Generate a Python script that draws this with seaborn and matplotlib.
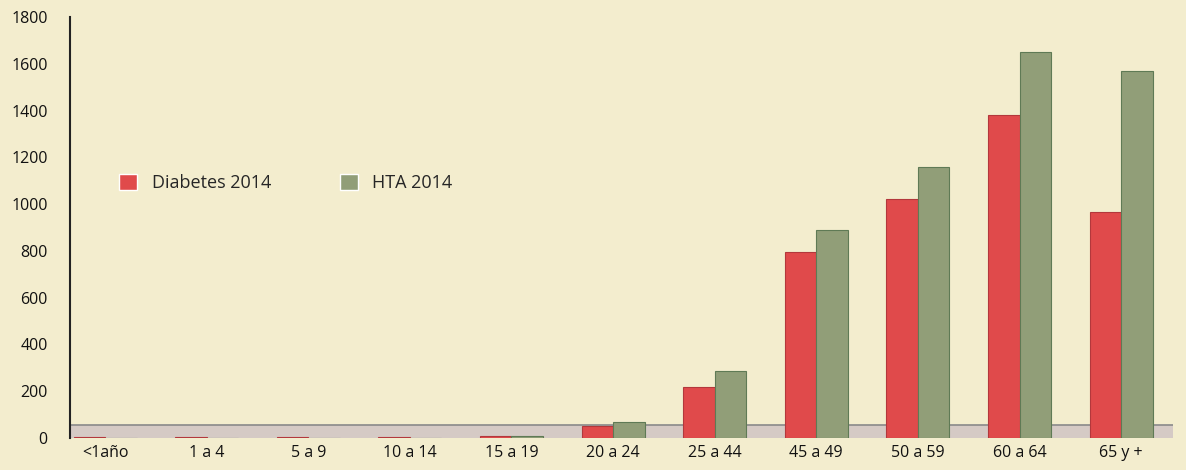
import seaborn as sns
import matplotlib.pyplot as plt
import pandas as pd

# Datos
grupos = ['<1año', '1 a 4', '5 a 9', '10 a 14', '15 a 19', '20 a 24',
          '25 a 44', '45 a 49', '50 a 59', '60 a 64', '65 y +']
diabetes = [3, 3, 3, 3, 8, 50, 220, 795, 1020, 1380, 965]
hta = [2, 2, 2, 2, 10, 70, 285, 890, 1160, 1650, 1570]

df = pd.DataFrame({
    'grupo': grupos * 2,
    'valor': diabetes + hta,
    'serie': ['Diabetes 2014'] * len(grupos) + ['HTA 2014'] * len(grupos),
})

fondo = '#F3EDCE'
sns.set_style('white')
plt.rcParams['font.family'] = ['Open Sans', 'DejaVu Sans']

fig = plt.figure(figsize=(11.86, 4.70), dpi=100, facecolor=fondo)
ax = fig.add_axes([0.059, 0.068, 0.93, 0.896])
ax.set_facecolor(fondo)

# piso gris
ax.axhspan(0, 55, color='#D5CAC5', zorder=0)
ax.axhline(55, color='#8A8A8A', lw=1.2, zorder=0.5)

sns.barplot(data=df, x='grupo', y='valor', hue='serie',
            palette=['#E04A4B', '#919E78'], width=0.62, saturation=1,
            ax=ax, zorder=2)
for cont, borde in zip(ax.containers, ['#B3383C', '#5F7A55']):
    for b in cont:
        b.set_edgecolor(borde)
        b.set_linewidth(0.8)

ax.set_ylim(0, 1800)
ax.set_xlim(-0.345, 10.51)
ax.set_yticks(range(0, 1801, 200))
ax.set_xlabel('')
ax.set_ylabel('')
ax.tick_params(axis='both', length=0, labelsize=11.5, colors='#111111')
ax.tick_params(axis='y', pad=16)
ax.tick_params(axis='x', pad=5)
for s in ['top', 'right', 'bottom']:
    ax.spines[s].set_visible(False)
ax.spines['left'].set_color('#222222')
ax.spines['left'].set_linewidth(1.5)

ax.legend(loc='center left', bbox_to_anchor=(0.03, 0.605), ncol=2,
          frameon=False, fontsize=13, handlelength=1.0, handleheight=1.0,
          columnspacing=3.8, handletextpad=0.8)

fig.savefig('out.png', dpi=100, facecolor=fondo)
